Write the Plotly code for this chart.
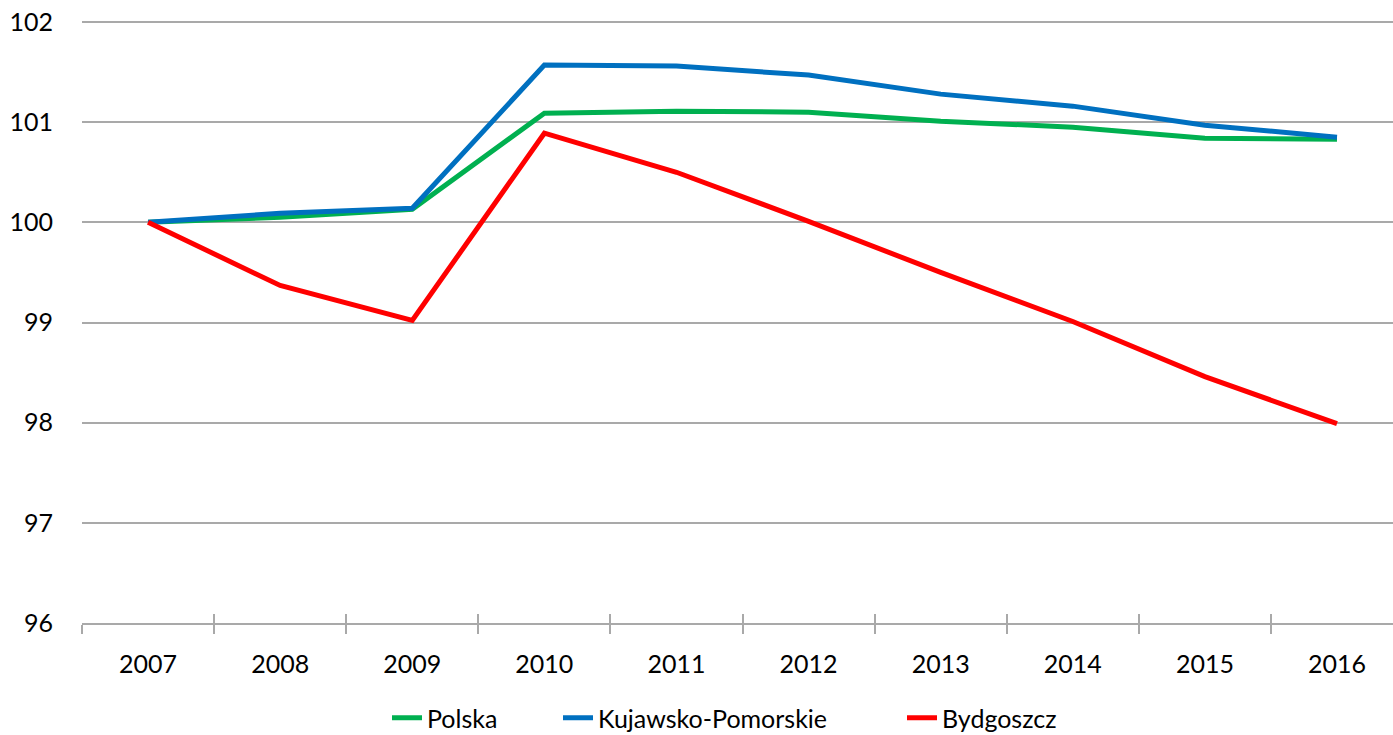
import plotly.graph_objects as go

years = ["2007", "2008", "2009", "2010", "2011", "2012", "2013", "2014", "2015", "2016"]
polska = [100.0, 100.05, 100.13, 101.09, 101.11, 101.10, 101.01, 100.95, 100.84, 100.83]
kujawsko = [100.0, 100.09, 100.14, 101.57, 101.56, 101.47, 101.28, 101.16, 100.97, 100.85]
bydgoszcz = [100.0, 99.37, 99.02, 100.89, 100.50, 100.01, 99.50, 99.01, 98.46, 97.99]

names = ["Polska", "Kujawsko-Pomorskie", "Bydgoszcz"]
colors = ["#00B050", "#0070C0", "#FF0000"]
legend_ids = ["legend", "legend2", "legend3"]
legend_px = [387, 558, 902]

L, R, T, B = 82, 0, 19, 112
W, H = 1393, 735
XR = [-0.5, 9.424]
YR = [96, 102.03]

fig = go.Figure()
for name, vals, col, lid in zip(names, [polska, kujawsko, bydgoszcz], colors, legend_ids):
    fig.add_trace(go.Scatter(x=years, y=vals, mode="lines", name=name, legend=lid,
                             line=dict(color=col, width=5), hoverinfo="skip"))

boundaries = [i - 0.5 for i in range(len(years))]
# invisible helper trace so the overlay axis (inner half of the crossing ticks) renders
fig.add_trace(go.Scatter(x=boundaries, y=[YR[0]] * len(boundaries), xaxis="x2",
                         mode="markers", marker=dict(opacity=0, size=1),
                         showlegend=False, hoverinfo="skip"))

grid = "#A9A9A9"
legend_common = dict(orientation="h", xanchor="left", xref="container", yref="container",
                     y=1 - 718 / H, yanchor="middle",
                     font=dict(size=25), bgcolor="rgba(0,0,0,0)")
layout_legends = {}
for lid, px in zip(legend_ids, legend_px):
    layout_legends[lid] = dict(legend_common, x=px / W)

fig.update_layout(
    width=W, height=H,
    margin=dict(l=L, r=R, t=T, b=B),
    paper_bgcolor="white", plot_bgcolor="white",
    font=dict(family="Lato, Calibri, sans-serif", size=25, color="#000000"),
    showlegend=True,
    xaxis=dict(type="category", range=XR, showgrid=False, automargin=False,
               showline=True, linecolor=grid, linewidth=1.5,
               ticks="outside", ticklen=9, tickcolor=grid, tickwidth=1.5,
               tickson="boundaries", ticklabelstandoff=18),
    xaxis2=dict(type="linear", range=XR, overlaying="x", anchor="y", side="bottom",
                showgrid=False, zeroline=False, showline=False, showticklabels=False,
                tickmode="array", tickvals=boundaries, ticks="inside", ticklen=9,
                tickcolor=grid, tickwidth=1.5, automargin=False),
    yaxis=dict(range=YR, dtick=1, tick0=96, showgrid=True, gridcolor=grid,
               gridwidth=1.5, zeroline=False, showline=False, ticks="", automargin=False,
               ticklabelstandoff=28),
    **layout_legends,
)

fig.write_html(
    "out.html",
    config={"displayModeBar": False},
    post_script="document.body.style.margin='0';document.body.style.overflow='hidden';",
)
